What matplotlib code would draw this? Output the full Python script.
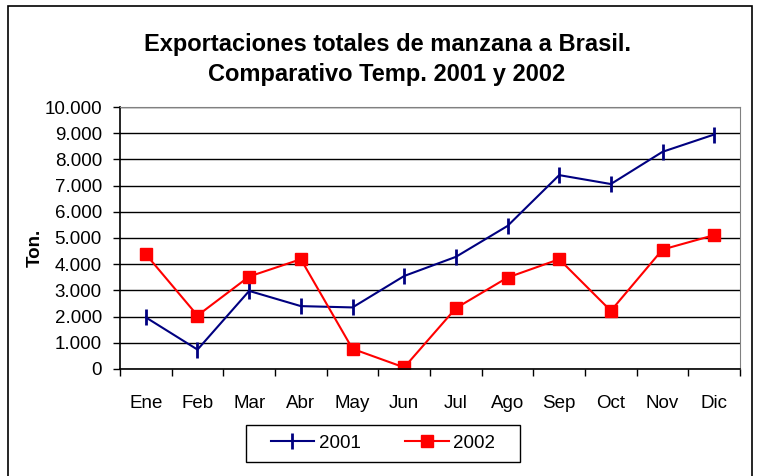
import matplotlib.pyplot as plt
from matplotlib.patches import Rectangle
from matplotlib.ticker import FuncFormatter, FixedLocator

plt.rcParams['font.family'] = ['Liberation Sans', 'DejaVu Sans']

meses = ['Ene', 'Feb', 'Mar', 'Abr', 'May', 'Jun', 'Jul', 'Ago', 'Sep', 'Oct', 'Nov', 'Dic']
ton_2001 = [1970, 740, 2980, 2400, 2350, 3550, 4280, 5460, 7400, 7060, 8290, 8950]
ton_2002 = [4380, 2040, 3530, 4190, 770, 60, 2320, 3490, 4190, 2220, 4560, 5110]

fig = plt.figure(figsize=(7.58, 4.76), dpi=100)
ax = fig.add_axes([0.1583, 0.2248, 0.8180, 0.5504])

# marco exterior del grafico
fig.patches.append(Rectangle((8 / 758, -0.05), 744 / 758, 1.05 - 6 / 476,
                             transform=fig.transFigure, fill=False,
                             edgecolor='black', linewidth=1.2))

x = list(range(len(meses)))
ax.plot(x, ton_2001, color='#000080', linewidth=1.5, marker='|',
        markersize=11, markeredgewidth=2, label='2001')
ax.plot(x, ton_2002, color='#FF0000', linewidth=1.5, marker='s',
        markersize=9, label='2002')

ax.set_xlim(-0.5, 11.5)
ax.set_ylim(0, 10000)
ax.set_yticks(range(0, 10001, 1000))
ax.yaxis.set_major_formatter(FuncFormatter(lambda v, p: f'{int(v):,}'.replace(',', '.')))
ax.set_xticks(x)
ax.set_xticklabels(meses)
ax.xaxis.set_minor_locator(FixedLocator([i - 0.5 for i in range(13)]))
ax.tick_params(axis='x', which='major', length=0, pad=19, labelsize=13.5)
ax.tick_params(axis='x', which='minor', length=5, width=1, direction='out')
ax.tick_params(axis='y', length=5, width=1, direction='out', labelsize=13.5, pad=8)

ax.grid(axis='y', color='black', linewidth=1)
ax.set_axisbelow(True)
for s in ['top', 'right']:
    ax.spines[s].set_color('#808080')
for s in ['left', 'bottom']:
    ax.spines[s].set_color('black')
    ax.spines[s].set_linewidth(1.2)

fig.text(35 / 758, 1 - 248 / 476, 'Ton.', rotation=90, ha='center', va='center',
         fontsize=13.5, fontweight='bold')
fig.text(387 / 758, 1 - 45 / 476, 'Exportaciones totales de manzana a Brasil.',
         ha='center', va='center', fontsize=17, fontweight='bold')
fig.text(387 / 758, 1 - 75 / 476, 'Comparativo Temp. 2001 y 2002',
         ha='center', va='center', fontsize=17, fontweight='bold')

leg = fig.legend(loc='center', bbox_to_anchor=(383 / 758, 1 - 443 / 476), ncol=2,
                 fontsize=13.5, frameon=False,
                 handlelength=2.3, handletextpad=0.25, columnspacing=2.4,
                 borderpad=0.45, borderaxespad=0)
# caja de la leyenda
fig.patches.append(Rectangle((246 / 758, 1 - 462 / 476), 274 / 758, 37 / 476,
                             transform=fig.transFigure, fill=False,
                             edgecolor='black', linewidth=1))

fig.savefig('out.png', dpi=100)
